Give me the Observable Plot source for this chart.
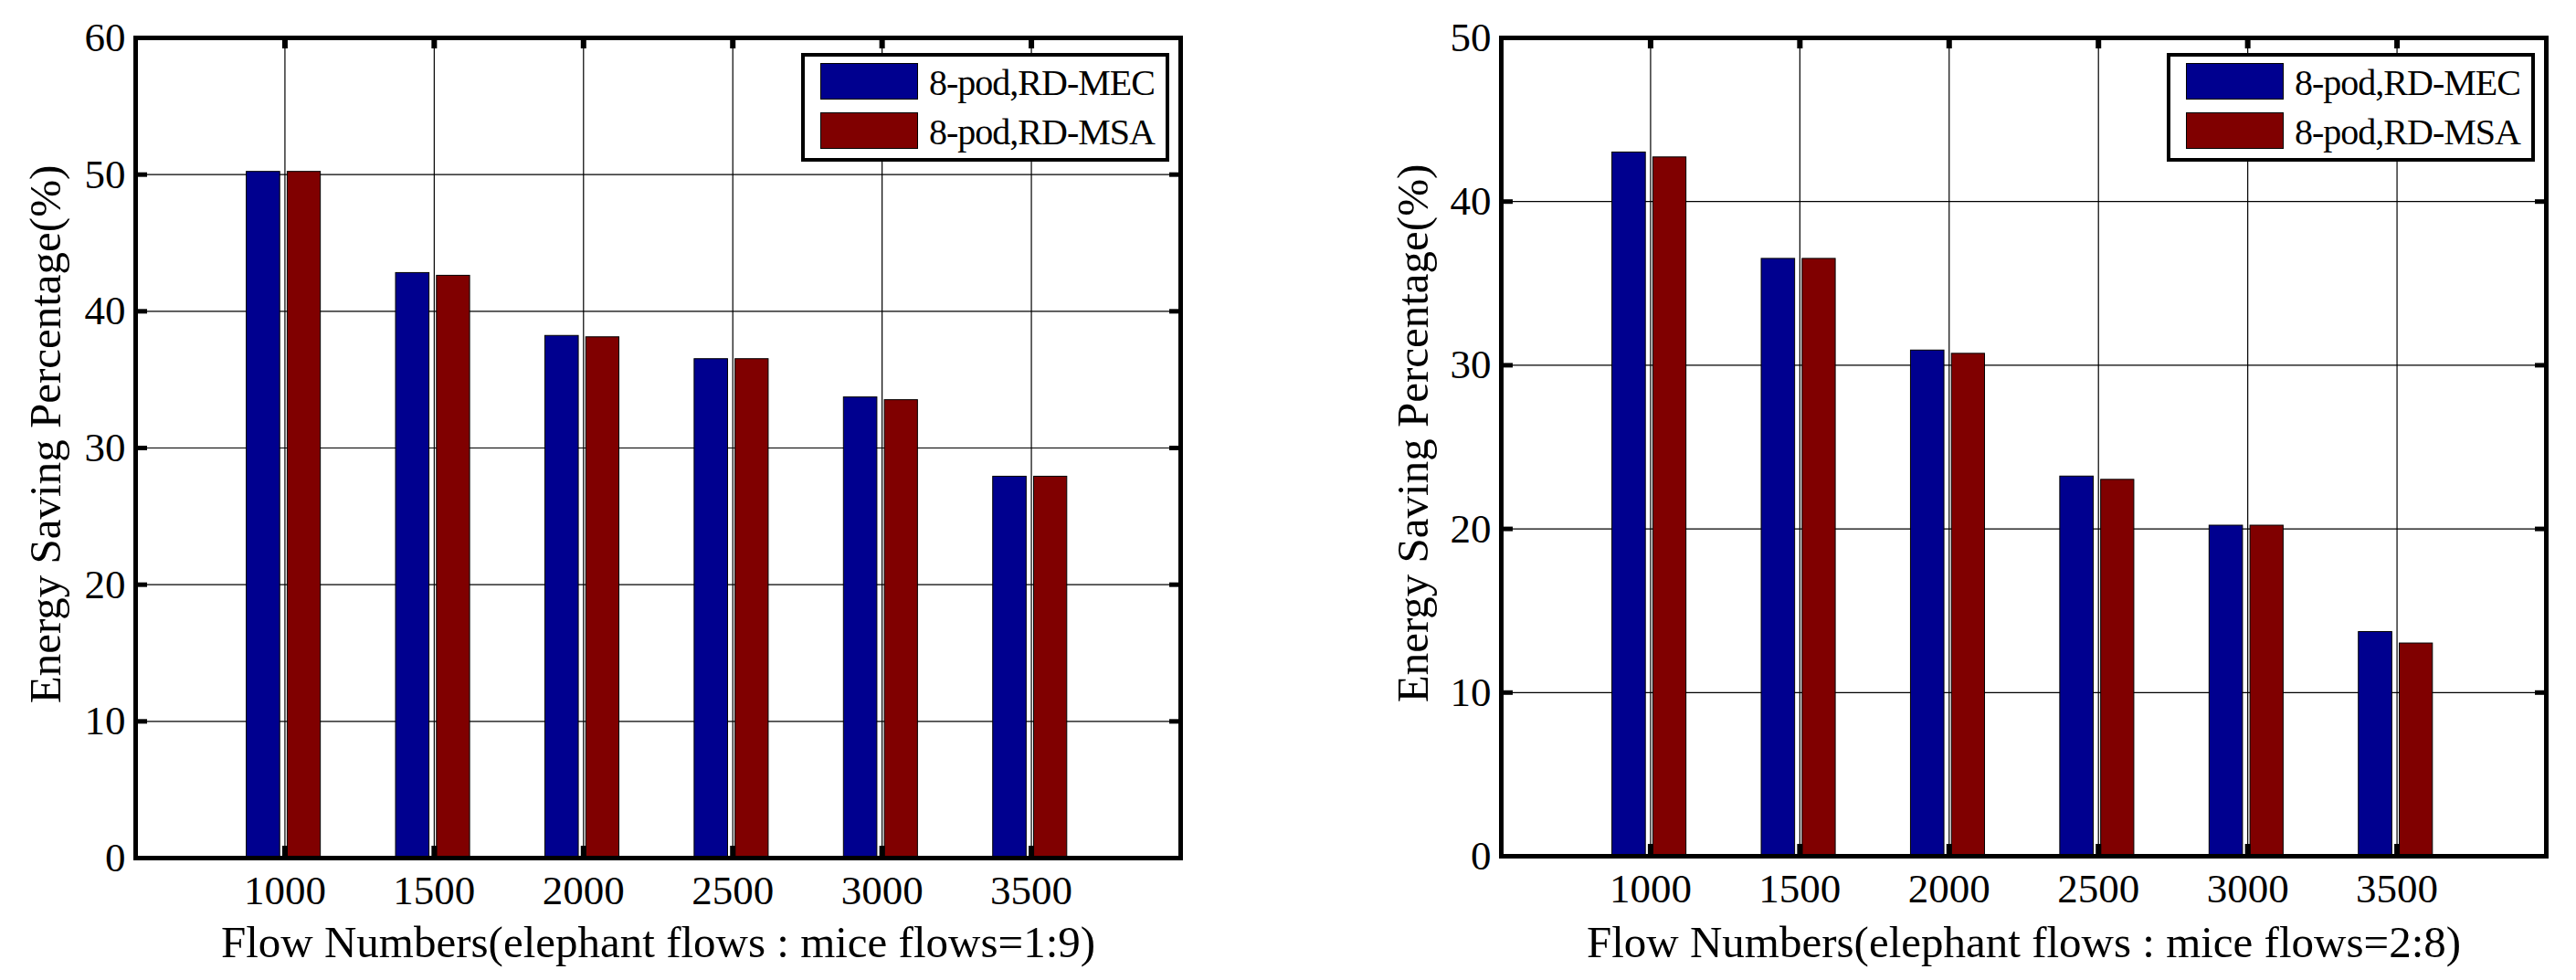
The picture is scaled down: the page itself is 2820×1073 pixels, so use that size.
<!DOCTYPE html>
<html><head><meta charset="utf-8">
<script src="https://cdn.jsdelivr.net/npm/d3@7"></script>
<script src="https://cdn.jsdelivr.net/npm/@observablehq/plot@0.6"></script>
<style>
html,body{margin:0;padding:0;background:#fff;}
#wrap{display:flex;width:2820px;height:1073px;overflow:hidden;}
.panel{position:relative;width:1410px;height:1073px;}
.legend{position:absolute;box-sizing:border-box;border:4px solid #000;background:#fff;font-family:"Liberation Serif","Times New Roman",serif;}
.sw{position:absolute;box-sizing:border-box;border:1px solid #000;}
.lt{position:absolute;font-size:40px;line-height:40px;letter-spacing:-1px;white-space:nowrap;color:#000;}
</style></head><body><div id="wrap"></div>
<script>
// ---- data ----
const flows = [1000, 1500, 2000, 2500, 3000, 3500];
const seriesNames = ["8-pod,RD-MEC", "8-pod,RD-MSA"];
const mec19 = [50.2, 42.8, 38.2, 36.5, 33.7, 27.9];
const msa19 = [50.2, 42.6, 38.1, 36.5, 33.5, 27.9];
const mec28 = [43.0, 36.5, 30.9, 23.2, 20.2, 13.7];
const msa28 = [42.7, 36.5, 30.7, 23.0, 20.2, 13.0];
const yTicks19 = [0, 10, 20, 30, 40, 50, 60];
const yTicks28 = [0, 10, 20, 30, 40, 50];
const xTitle19 = "Flow Numbers(elephant flows : mice flows=1:9)";
const xTitle28 = "Flow Numbers(elephant flows : mice flows=2:8)";
const yTitle = "Energy Saving Percentage(%)";
const colors = ["#00008F", "#800000"];

// bar placement within a group (x units), styling only
const barOffsets = [[-128, -16], [9, 120]];
const FONT = '"Liberation Serif","Times New Roman",serif';

function chart(mec, msa, yMax, yTicks, xTitle, m) {
  const rows = flows.flatMap((f, i) => [
    {flow: f, s: 0, v: mec[i]},
    {flow: f, s: 1, v: msa[i]}
  ]);
  const plot = Plot.plot({
    width: 1410, height: 1073,
    marginLeft: m.left, marginRight: m.right, marginTop: m.top, marginBottom: m.bottom,
    x: {domain: [500, 4000]},
    y: {domain: [0, yMax]},
    color: {type: "ordinal", domain: seriesNames, range: colors},
    style: {fontFamily: FONT, background: "white", color: "black", overflow: "visible"},
    marks: [
      Plot.gridX(flows, {stroke: "black", strokeOpacity: 1, strokeWidth: 1.2}),
      Plot.gridY(yTicks, {stroke: "black", strokeOpacity: 1, strokeWidth: 1.2}),
      Plot.rect(rows, {
        x1: d => d.flow + barOffsets[d.s][0],
        x2: d => d.flow + barOffsets[d.s][1],
        y1: 0, y2: d => d.v,
        fill: d => seriesNames[d.s], stroke: "black", strokeWidth: 1
      }),
      Plot.frame({stroke: "black", strokeWidth: 5}),
      Plot.axisX(flows, {anchor: "bottom", tickSize: 0, tickPadding: 19, fontSize: 45, tickFormat: d => String(d), label: null}),
      Plot.axisX(flows, {anchor: "bottom", tickSize: -13, strokeWidth: 6, stroke: "black", fill: "none", label: null}),
      Plot.axisX(flows, {anchor: "top", tickSize: -11, strokeWidth: 6, stroke: "black", fill: "none", label: null}),
      Plot.axisY(yTicks, {anchor: "left", tickSize: 0, tickPadding: 11, fontSize: 45, tickFormat: d => String(d), label: null}),
      Plot.axisY(yTicks, {anchor: "left", tickSize: -13, strokeWidth: 5, stroke: "black", fill: "none", label: null}),
      Plot.axisY(yTicks, {anchor: "right", tickSize: -13, strokeWidth: 5, stroke: "black", fill: "none", label: null}),
      Plot.text([xTitle], {frameAnchor: "bottom", dy: m.xTitleDy, lineAnchor: "top", textAnchor: "middle", fontSize: 49, text: d => d, fill: "black"}),
      Plot.text([yTitle], {frameAnchor: "left", dx: m.yTitleDx, dy: -15, rotate: -90, textAnchor: "middle", lineAnchor: "middle", fontSize: 49, text: d => d, fill: "black"})
    ]
  });
  const panel = document.createElement("div");
  panel.className = "panel";
  panel.appendChild(plot);
  // legend
  const lg = document.createElement("div");
  lg.className = "legend";
  lg.style.left = (1410 - m.right - 415) + "px";
  lg.style.top = "58px";
  lg.style.width = "403px";
  lg.style.height = "119px";
  seriesNames.forEach((name, i) => {
    const sw = document.createElement("div");
    sw.className = "sw";
    sw.style.left = "17px";
    sw.style.top = (7 + i * 54) + "px";
    sw.style.width = "107px";
    sw.style.height = "40px";
    sw.style.background = colors[i];
    lg.appendChild(sw);
    const t = document.createElement("div");
    t.className = "lt";
    t.style.left = "136px";
    t.style.top = (9 + i * 54) + "px";
    t.textContent = name;
    lg.appendChild(t);
  });
  panel.appendChild(lg);
  return panel;
}

const wrap = document.getElementById("wrap");
wrap.appendChild(chart(mec19, msa19, 60, yTicks19, xTitle19, {left: 148, right: 118, top: 41, bottom: 134, xTitleDy: 74, yTitleDx: -98}));
wrap.appendChild(chart(mec28, msa28, 50, yTicks28, xTitle28, {left: 233, right: 33, top: 41, bottom: 136, xTitleDy: 76, yTitleDx: -96}));
</script></body></html>
